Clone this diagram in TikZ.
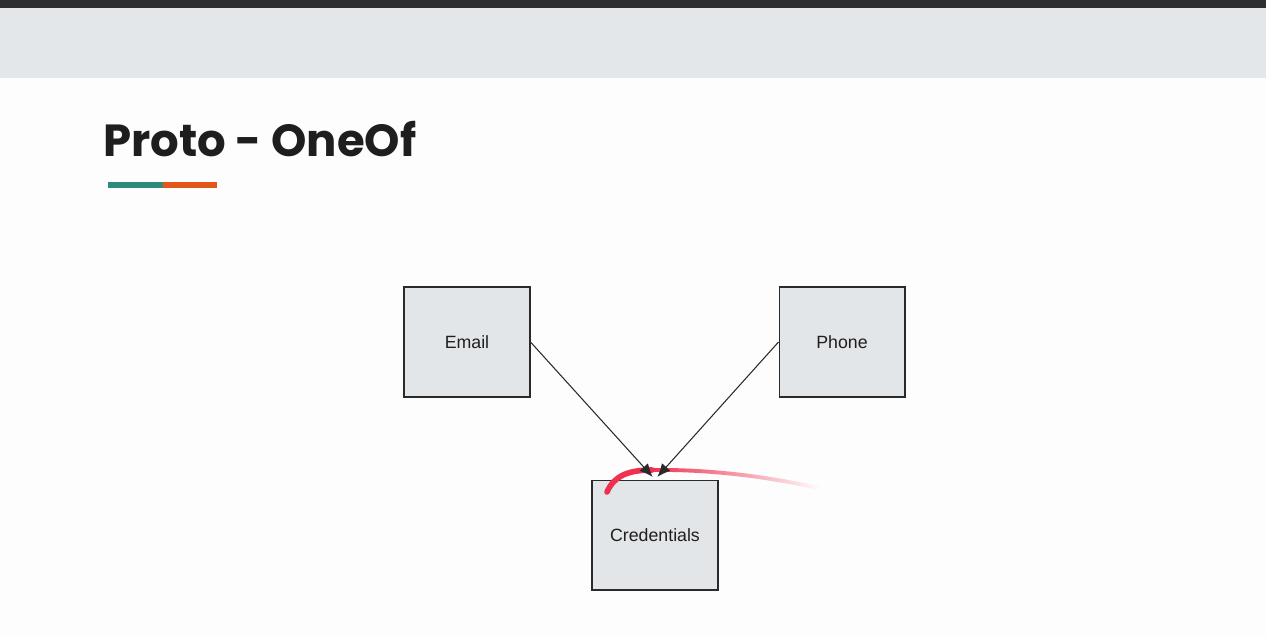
\documentclass[tikz,border=0pt]{standalone}
\usepackage{fontspec}
\setmainfont{Liberation Sans}
\newfontfamily\titlefont{Poppins}
\usetikzlibrary{arrows.meta,fadings}

\definecolor{topbar}{HTML}{2D2E30}
\definecolor{band}{HTML}{E3E7E9}
\definecolor{pagebg}{HTML}{FDFDFD}
\definecolor{boxfill}{HTML}{E3E6E9}
\definecolor{boxline}{HTML}{2A2A2A}
\definecolor{inktext}{HTML}{1E1E1E}
\definecolor{accentteal}{HTML}{2E8B7C}
\definecolor{accentorange}{HTML}{E2561C}
\definecolor{penred}{HTML}{F0304F}

\tikzset{
  block/.style={draw=boxline, fill=boxfill, line width=0.6pt, minimum width=2.52cm,
    minimum height=2.2cm, text=inktext, font=\fontsize{10.1}{12}\selectfont},
  link/.style={draw=boxline, line width=0.6pt, -{Latex[length=7.5pt,width=6.5pt]}, shorten >=2pt}
}

\begin{document}
\begin{tikzpicture}[x=0.02cm,y=-0.02cm]
\useasboundingbox (0,0) rectangle (1266,637);

% slide background
\fill [pagebg] (0,0) rectangle (1266,637) ;
\fill [band] (0,8) rectangle (1266,78) ;
\fill [topbar] (0,0) rectangle (1266,8) ;

% title
\node [anchor=base west, inner sep=0, text=inktext] (title) at (103,156)
  {\titlefont\bfseries\fontsize{25.6}{30}\selectfont Proto - OneOf} ;
\fill [accentteal] (108,182) rectangle (163,188) ;
\fill [accentorange] (163,182) rectangle (217,188) ;

% boxes
\node [block] (email) at (467,342) {Email} ;
\node [block] (phone) at (842,342) {Phone} ;
\node [block] (cred) at (655,535) {Credentials} ;

% pen mark
\draw [penred, line width=3.2pt, line cap=round]
  (607,492) .. controls (614,476) and (628,470) .. (652,470) ;
\draw [penred, line width=2.2pt, path fading=east]
  (650,470) .. controls (710,469) and (770,477) .. (818,488) ;

\draw [link] (email.east) -- (cred.north) ;
\draw [link] (phone.west) -- (cred.north) ;
\end{tikzpicture}
\end{document}
